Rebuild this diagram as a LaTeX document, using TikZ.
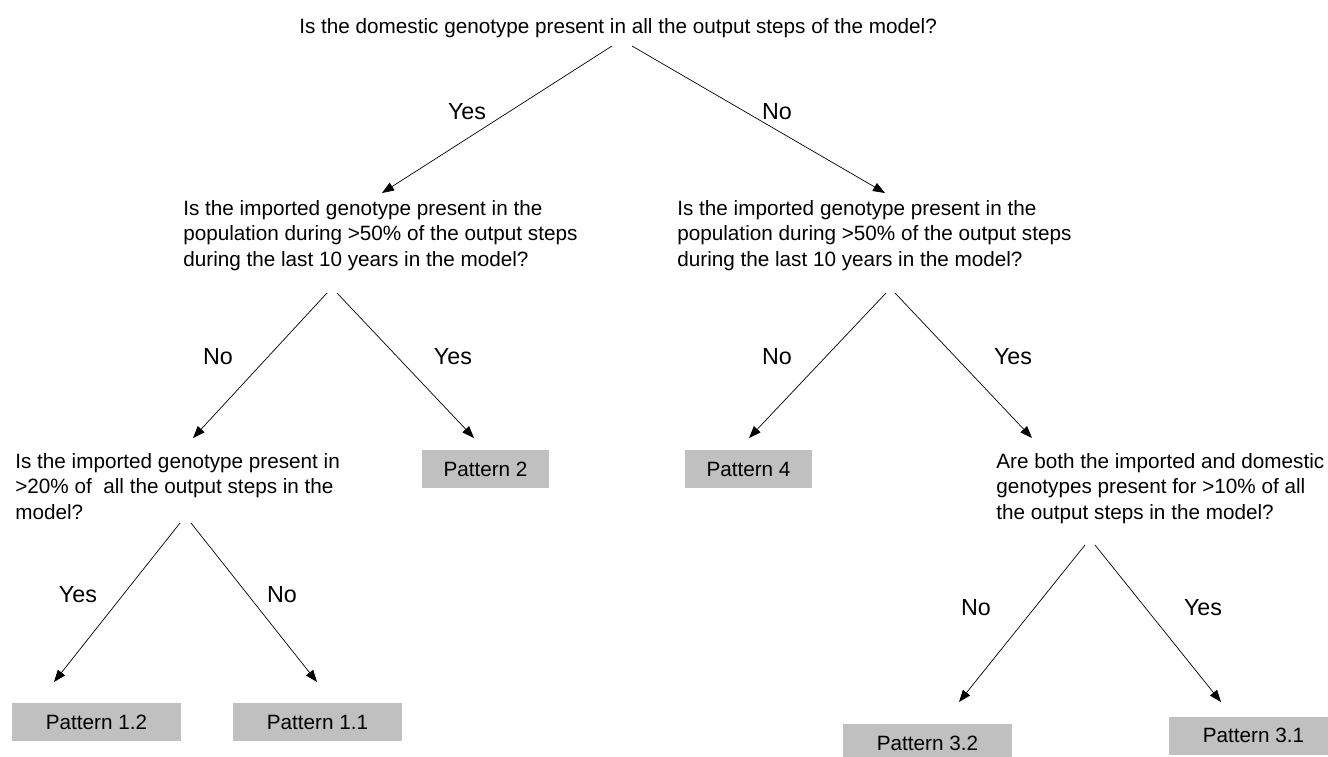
\documentclass[tikz,border=0pt]{standalone}
\usepackage{fontspec}
\setmainfont{Liberation Sans}
\usetikzlibrary{arrows.meta}
\definecolor{patgray}{RGB}{192,192,192}
\begin{document}
\begin{tikzpicture}[
x=1pt,y=-1pt,
>={Triangle[length=12pt,width=9pt]},
line width=0.7pt
%,scale=1, every node/.style={transform shape}
]

  \tikzstyle{quest}=[anchor=north west,inner sep=0pt,align=left,font=\fontsize{20.7}{25.5}\selectfont]
  \tikzstyle{patbox}=[fill=patgray,inner sep=0pt,minimum height=38pt,font=\fontsize{20.7}{25}\selectfont]
  \tikzstyle{answer}=[inner sep=0pt,font=\fontsize{23.3}{28}\selectfont]

  \useasboundingbox (0,0) rectangle (1328,757);

  % questions
  \node (q0) [quest] at (299,18) {Is the domestic genotype present in all the output steps of the model?};
  \node (q1) [quest] at (183,200) {Is the imported genotype present in the\\population during >50\% of the output steps\\during the last 10 years in the model?};
  \node (q2) [quest] at (677,200) {Is the imported genotype present in the\\population during >50\% of the output steps\\during the last 10 years in the model?};
  \node (q3) [quest] at (15,453) {Is the imported genotype present in\\>20\% of~ all the output steps in the\\model?};
  \node (q4) [quest] at (996,453) {Are both the imported and domestic\\genotypes present for >10\% of all\\the output steps in the model?};

  % patterns
  \node (p2) [patbox,minimum width=127pt] at (485.5,469) {Pattern 2};
  \node (p4) [patbox,minimum width=127pt] at (748.5,469) {Pattern 4};
  \node (p12) [patbox,minimum width=169pt] at (96.5,722) {Pattern 1.2};
  \node (p11) [patbox,minimum width=169pt] at (317.5,722) {Pattern 1.1};
  \node (p32) [patbox,minimum width=169pt] at (927.5,743) {Pattern 3.2};
  \node (p31) [patbox,minimum width=169pt] at (1253.5,735.5) {Pattern 3.1};

  % arrow ends
  \coordinate (q0l) at (612,46);   \coordinate (q0r) at (632,46);
  \coordinate (t1) at (382,193);   \coordinate (t2) at (885,193);
  \coordinate (q1l) at (327,293);  \coordinate (q1r) at (337,293);
  \coordinate (t3) at (193,438);   \coordinate (t2p) at (474,438);
  \coordinate (q2l) at (886,293);  \coordinate (q2r) at (895,293);
  \coordinate (t4p) at (749,438);  \coordinate (t4) at (1032,438);
  \coordinate (q3l) at (180,523);  \coordinate (q3r) at (191,523);
  \coordinate (t12p) at (54,682);  \coordinate (t11p) at (317,682);
  \coordinate (q4l) at (1085,545); \coordinate (q4r) at (1095,545);
  \coordinate (t32p) at (959,702); \coordinate (t31p) at (1221,702);

  \draw [->] (q0l) -- (t1);
  \draw [->] (q0r) -- (t2);
  \draw [->] (q1l) -- (t3);
  \draw [->] (q1r) -- (t2p);
  \draw [->] (q2l) -- (t4p);
  \draw [->] (q2r) -- (t4);
  \draw [->] (q3l) -- (t12p);
  \draw [->] (q3r) -- (t11p);
  \draw [->] (q4l) -- (t32p);
  \draw [->] (q4r) -- (t31p);

  % answers
  \node (y0) [answer] at (467,112) {Yes};
  \node (n0) [answer] at (777,112) {No};
  \node (n1) [answer] at (218,357) {No};
  \node (y1) [answer] at (453,357) {Yes};
  \node (n2) [answer] at (777,357) {No};
  \node (y2) [answer] at (1013,357) {Yes};
  \node (y3) [answer] at (78,595) {Yes};
  \node (n3) [answer] at (282,595) {No};
  \node (n4) [answer] at (976,608) {No};
  \node (y4) [answer] at (1203,608) {Yes};

\end{tikzpicture}
\end{document}
